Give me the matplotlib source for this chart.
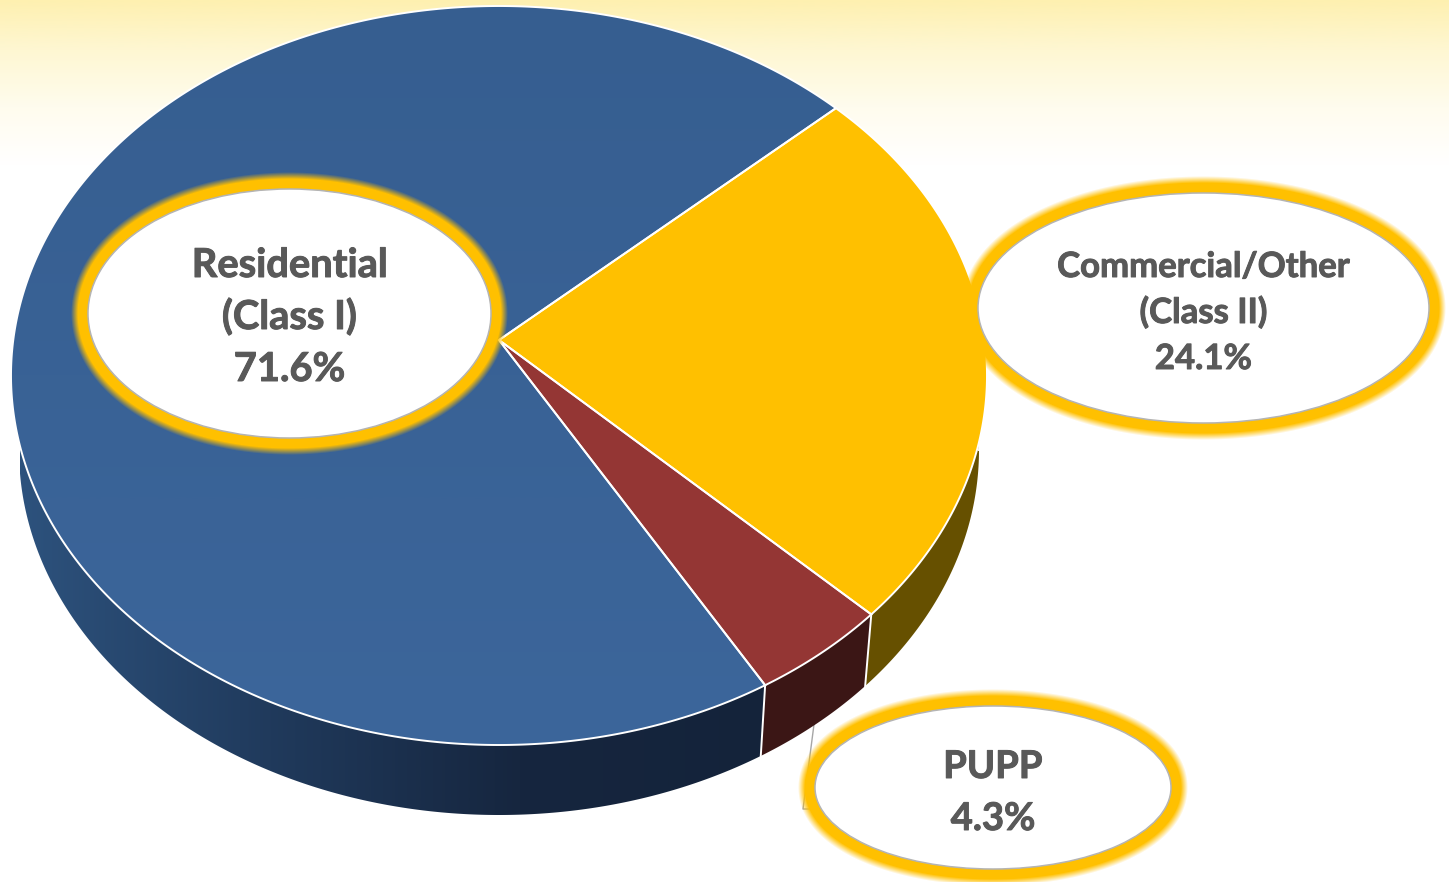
import matplotlib
matplotlib.use('Agg')
import matplotlib.pyplot as plt
from matplotlib.colors import LinearSegmentedColormap
from matplotlib.patches import Ellipse, Polygon
import matplotlib.patheffects as pe
import numpy as np

# share of each class, clockwise from the start angle
categories = ['Commercial/Other', 'PUPP', 'Residential']
shares = [24.1, 4.3, 71.6]
label_lines = [['Commercial/Other', '(Class II)', '24.1%'],
               ['PUPP', '4.3%'],
               ['Residential', '(Class I)', '71.6%']]

W, H = 1449, 882
START = 42.4
CX, CY, RX, RY = 499, 375.5, 488, 369.5     # top rim
BX, BY, BW, BH = 499, 450, 480, 365         # bottom rim
TILT = 0.096                                # perspective shift of the pie centre

TOP_COLORS = ['#FFC000', '#943634', None]
WALL_COLORS = ['#665000', '#3B1615', None]
TEXT = '#595959'
GOLD = (1.0, 0.753, 0.0)

# ellipse (cx, cy, rx, ry), font size and text baselines for each label
BUBBLES = [(1203.5, 308, 225.5, 115, 25, [277, 323, 369]),
           (993, 787.5, 178, 81.5, 27.5, [778, 830]),
           (289.5, 313.5, 201.5, 124.5, 28.7, [277, 329, 381])]

plt.rcParams['font.family'] = ['Lato', 'DejaVu Sans']

def to_rim(deg):
    '''pie angle to position on the unit rim, seen in perspective'''
    t = np.radians(deg)
    d = 1 + TILT * np.sin(t)
    xr = np.cos(t) * np.sqrt(1 - TILT ** 2) / d
    yr = (np.sin(t) + TILT) / d
    return xr, yr

def top_xy(deg):
    xr, yr = to_rim(deg)
    return CX + RX * xr, CY - RY * yr

def rim_angle(deg):
    xr, yr = to_rim(deg)
    return np.degrees(np.arctan2(yr, xr))

def gradient(ax, colors, clip, vertical=True, extent=(0, W, H, 0), zorder=1):
    cmap = LinearSegmentedColormap.from_list('g', colors)
    g = np.linspace(0, 1, 512)
    g = g[:, None] if vertical else g[None, :]
    im = ax.imshow(g, cmap=cmap, vmin=0, vmax=1, extent=extent, aspect='auto', zorder=zorder)
    if clip is not None:
        im.set_clip_path(clip)
    return im

fig = plt.figure(figsize=(W / 100, H / 100), dpi=100)
ax = fig.add_axes([0, 0, 1, 1])

# pale yellow band along the top edge
gradient(ax, [(0, '#FEF0B0'), (0.3, '#FEF7D2'), (0.65, '#FFFCEE'), (1, '#FFFFFF')],
         None, extent=(0, W, 165, 0), zorder=0)

# leader line of the PUPP label
ax.plot([816, 803, 822], [709, 809, 809], color='#A6A6A6', lw=1, zorder=0.5)

# slices, clockwise from START
edges = START - np.cumsum([0] + shares) * 3.6

# side walls: only the part of the rim facing the viewer
for i in range(len(shares)):
    a0, a1 = edges[i], edges[i + 1]
    theta = np.linspace(a0, a1, max(int(abs(a1 - a0) * 3), 8))
    u = np.degrees(np.unwrap(np.radians(rim_angle(theta))))
    u = u[(u <= 0) & (u >= -180)]
    if categories[i] == 'Commercial/Other':
        u = np.r_[0, u]
    if categories[i] == 'Residential':
        u = np.r_[u, -180]
    ur = np.radians(u)
    xt = CX + RX * np.cos(ur)
    yt = CY - RY * np.sin(ur)
    xb = BX + BW * np.cos(ur)
    yb = BY - BH * np.sin(ur)
    wall_xy = np.c_[np.r_[xt, xb[::-1]], np.r_[yt, yb[::-1]]]
    if WALL_COLORS[i] is None:
        wall = Polygon(wall_xy, closed=True, fc='none', ec='none', transform=ax.transData)
        ax.add_patch(wall)
        gradient(ax, ['#2D527D', '#203A5C', '#16263F', '#14233A'], wall, vertical=False,
                 extent=(20, 770, H, 0), zorder=2)
    else:
        ax.add_patch(Polygon(wall_xy, closed=True, fc=WALL_COLORS[i], ec='none', zorder=2))
    ax.plot([xt[0], xb[0]], [yt[0], yb[0]], color='white', lw=1.4, zorder=2.5)

# top faces
for i in range(len(shares)):
    a0, a1 = edges[i], edges[i + 1]
    theta = np.linspace(a0, a1, max(int(abs(a1 - a0) * 3), 8))
    xs, ys = top_xy(theta)
    xy = np.c_[np.r_[CX, xs], np.r_[CY - RY * TILT, ys]]
    if TOP_COLORS[i] is None:
        top = Polygon(xy, closed=True, fc='none', ec='none', transform=ax.transData)
        ax.add_patch(top)
        gradient(ax, ['#365E90', '#3C669B'], top, extent=(0, W, 745, 5), zorder=3)
    else:
        ax.add_patch(Polygon(xy, closed=True, fc=TOP_COLORS[i], ec='none', zorder=3))
    ax.add_patch(Polygon(xy, closed=True, fc='none', ec='white', lw=1.4, joinstyle='miter', zorder=3.5))

# label bubbles with a soft gold glow
yy, xx = np.mgrid[0:H, 0:W] + 0.5
for i, (bx, by, brx, bry, size, baselines) in enumerate(BUBBLES):
    px, py = xx - bx, yy - by
    f = np.sqrt((px / brx) ** 2 + (py / bry) ** 2)
    grad = np.sqrt((px / brx ** 2) ** 2 + (py / bry ** 2) ** 2) / np.maximum(f, 1e-6)
    dist = (f - 1) / np.maximum(grad, 1e-6)
    rgba = np.zeros((H, W, 4))
    rgba[..., :3] = GOLD
    rgba[..., 3] = np.clip((17 - dist) / 7, 0, 1)
    ax.imshow(rgba, extent=(0, W, H, 0), aspect='auto', zorder=4 + i * 0.1, interpolation='nearest')
    ax.add_patch(Ellipse((bx, by), 2 * brx, 2 * bry, fc='white', ec='#B4B4B4', lw=1.1,
                         zorder=4.05 + i * 0.1))
    for line, base in zip(label_lines[i], baselines):
        ax.text(bx, base, line, ha='center', va='baseline', fontsize=size, fontweight='bold',
                color=TEXT, zorder=6,
                path_effects=[pe.withStroke(linewidth=0.7, foreground=TEXT)])

ax.set_xlim(0, W)
ax.set_ylim(H, 0)
ax.axis('off')
fig.savefig('out.png', dpi=100, facecolor='white')
